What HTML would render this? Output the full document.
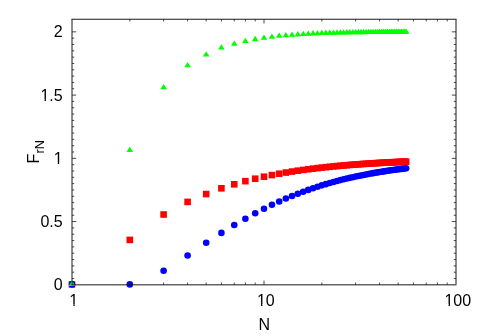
<!DOCTYPE html>
<html><head><meta charset="utf-8"><title>plot</title>
<style>
html,body{margin:0;padding:0;background:#fff;}
body{width:480px;height:336px;overflow:hidden;font-family:"Liberation Sans",sans-serif;}
svg{display:block;}
</style></head><body>
<svg width="480" height="336" viewBox="0 0 480 336">
<rect width="480" height="336" fill="#fff"/>
<g stroke="#1a1a1a" fill="none"><path d="M72.0,284.34 V19.25M456.0,19.25V284.34" stroke-width="1"/><path d="M71.5,19.25H456.5" stroke-width="1.12"/><path d="M72.0,278.52h2.2M456.0,278.52h-2.2M72.0,272.19h2.2M456.0,272.19h-2.2M72.0,265.87h2.2M456.0,265.87h-2.2M72.0,259.54h2.2M456.0,259.54h-2.2M72.0,253.22h2.2M456.0,253.22h-2.2M72.0,246.89h2.2M456.0,246.89h-2.2M72.0,240.57h2.2M456.0,240.57h-2.2M72.0,234.24h2.2M456.0,234.24h-2.2M72.0,227.92h2.2M456.0,227.92h-2.2M72.0,221.59h4.2M456.0,221.59h-4.2M72.0,215.27h2.2M456.0,215.27h-2.2M72.0,208.94h2.2M456.0,208.94h-2.2M72.0,202.62h2.2M456.0,202.62h-2.2M72.0,196.29h2.2M456.0,196.29h-2.2M72.0,189.97h2.2M456.0,189.97h-2.2M72.0,183.64h2.2M456.0,183.64h-2.2M72.0,177.32h2.2M456.0,177.32h-2.2M72.0,170.99h2.2M456.0,170.99h-2.2M72.0,164.67h2.2M456.0,164.67h-2.2M72.0,158.34h4.2M456.0,158.34h-4.2M72.0,152.02h2.2M456.0,152.02h-2.2M72.0,145.70h2.2M456.0,145.70h-2.2M72.0,139.37h2.2M456.0,139.37h-2.2M72.0,133.05h2.2M456.0,133.05h-2.2M72.0,126.72h2.2M456.0,126.72h-2.2M72.0,120.40h2.2M456.0,120.40h-2.2M72.0,114.07h2.2M456.0,114.07h-2.2M72.0,107.75h2.2M456.0,107.75h-2.2M72.0,101.42h2.2M456.0,101.42h-2.2M72.0,95.10h4.2M456.0,95.10h-4.2M72.0,88.77h2.2M456.0,88.77h-2.2M72.0,82.45h2.2M456.0,82.45h-2.2M72.0,76.12h2.2M456.0,76.12h-2.2M72.0,69.80h2.2M456.0,69.80h-2.2M72.0,63.47h2.2M456.0,63.47h-2.2M72.0,57.15h2.2M456.0,57.15h-2.2M72.0,50.82h2.2M456.0,50.82h-2.2M72.0,44.50h2.2M456.0,44.50h-2.2M72.0,38.17h2.2M456.0,38.17h-2.2M72.0,31.85h4.2M456.0,31.85h-4.2M129.80,284.84v-2.2M129.80,19.2v2.2M163.61,284.84v-2.2M163.61,19.2v2.2M187.60,284.84v-2.2M187.60,19.2v2.2M206.20,284.84v-2.2M206.20,19.2v2.2M221.41,284.84v-2.2M221.41,19.2v2.2M234.26,284.84v-2.2M234.26,19.2v2.2M245.39,284.84v-2.2M245.39,19.2v2.2M255.21,284.84v-2.2M255.21,19.2v2.2M264.00,284.84v-4.2M264.00,19.2v4.2M321.80,284.84v-2.2M321.80,19.2v2.2M355.61,284.84v-2.2M355.61,19.2v2.2M379.60,284.84v-2.2M379.60,19.2v2.2M398.20,284.84v-2.2M398.20,19.2v2.2M413.41,284.84v-2.2M413.41,19.2v2.2M426.26,284.84v-2.2M426.26,19.2v2.2M437.39,284.84v-2.2M437.39,19.2v2.2M447.21,284.84v-2.2M447.21,19.2v2.2" stroke-width="0.8"/></g>
<g fill="#ff0000"><rect x="68.70" y="281.10" width="6.60" height="6.60"/><rect x="126.50" y="236.60" width="6.60" height="6.60"/><rect x="160.31" y="211.20" width="6.60" height="6.60"/><rect x="184.30" y="198.60" width="6.60" height="6.60"/><rect x="202.90" y="190.75" width="6.60" height="6.60"/><rect x="218.11" y="185.00" width="6.60" height="6.60"/><rect x="230.96" y="181.00" width="6.60" height="6.60"/><rect x="242.09" y="177.86" width="6.60" height="6.60"/><rect x="251.91" y="175.41" width="6.60" height="6.60"/><rect x="260.70" y="173.43" width="6.60" height="6.60"/><rect x="268.65" y="171.80" width="6.60" height="6.60"/><rect x="275.90" y="170.43" width="6.60" height="6.60"/><rect x="282.58" y="169.26" width="6.60" height="6.60"/><rect x="288.76" y="168.26" width="6.60" height="6.60"/><rect x="294.51" y="167.39" width="6.60" height="6.60"/><rect x="299.89" y="166.63" width="6.60" height="6.60"/><rect x="304.95" y="165.95" width="6.60" height="6.60"/><rect x="309.71" y="165.35" width="6.60" height="6.60"/><rect x="314.22" y="164.81" width="6.60" height="6.60"/><rect x="318.50" y="164.32" width="6.60" height="6.60"/><rect x="322.57" y="163.88" width="6.60" height="6.60"/><rect x="326.45" y="163.47" width="6.60" height="6.60"/><rect x="330.15" y="163.10" width="6.60" height="6.60"/><rect x="333.70" y="162.77" width="6.60" height="6.60"/><rect x="337.10" y="162.46" width="6.60" height="6.60"/><rect x="340.37" y="162.17" width="6.60" height="6.60"/><rect x="343.52" y="161.90" width="6.60" height="6.60"/><rect x="346.55" y="161.65" width="6.60" height="6.60"/><rect x="349.48" y="161.42" width="6.60" height="6.60"/><rect x="352.31" y="161.21" width="6.60" height="6.60"/><rect x="355.04" y="161.00" width="6.60" height="6.60"/><rect x="357.69" y="160.81" width="6.60" height="6.60"/><rect x="360.25" y="160.64" width="6.60" height="6.60"/><rect x="362.74" y="160.47" width="6.60" height="6.60"/><rect x="365.16" y="160.31" width="6.60" height="6.60"/><rect x="367.51" y="160.16" width="6.60" height="6.60"/><rect x="369.79" y="160.02" width="6.60" height="6.60"/><rect x="372.02" y="159.88" width="6.60" height="6.60"/><rect x="374.18" y="159.76" width="6.60" height="6.60"/><rect x="376.30" y="159.63" width="6.60" height="6.60"/><rect x="378.35" y="159.52" width="6.60" height="6.60"/><rect x="380.36" y="159.41" width="6.60" height="6.60"/><rect x="382.33" y="159.30" width="6.60" height="6.60"/><rect x="384.24" y="159.20" width="6.60" height="6.60"/><rect x="386.12" y="159.11" width="6.60" height="6.60"/><rect x="387.95" y="159.02" width="6.60" height="6.60"/><rect x="389.74" y="158.93" width="6.60" height="6.60"/><rect x="391.50" y="158.85" width="6.60" height="6.60"/><rect x="393.22" y="158.76" width="6.60" height="6.60"/><rect x="394.90" y="158.69" width="6.60" height="6.60"/><rect x="396.55" y="158.61" width="6.60" height="6.60"/><rect x="398.17" y="158.54" width="6.60" height="6.60"/><rect x="399.76" y="158.47" width="6.60" height="6.60"/><rect x="401.32" y="158.41" width="6.60" height="6.60"/><rect x="402.85" y="158.34" width="6.60" height="6.60"/></g>
<g fill="#0000ff"><circle cx="72.00" cy="284.40" r="3.30"/><circle cx="129.80" cy="284.40" r="3.30"/><circle cx="163.61" cy="270.75" r="3.30"/><circle cx="187.60" cy="255.50" r="3.30"/><circle cx="206.20" cy="242.80" r="3.30"/><circle cx="221.41" cy="232.90" r="3.30"/><circle cx="234.26" cy="225.00" r="3.30"/><circle cx="245.39" cy="218.75" r="3.30"/><circle cx="255.21" cy="213.25" r="3.30"/><circle cx="264.00" cy="208.75" r="3.30"/><circle cx="271.95" cy="204.75" r="3.30"/><circle cx="279.20" cy="201.50" r="3.30"/><circle cx="285.88" cy="198.50" r="3.30"/><circle cx="292.06" cy="196.00" r="3.30"/><circle cx="297.81" cy="193.75" r="3.30"/><circle cx="303.19" cy="191.75" r="3.30"/><circle cx="308.25" cy="189.88" r="3.30"/><circle cx="313.01" cy="188.22" r="3.30"/><circle cx="317.52" cy="186.73" r="3.30"/><circle cx="321.80" cy="185.37" r="3.30"/><circle cx="325.87" cy="184.13" r="3.30"/><circle cx="329.75" cy="183.00" r="3.30"/><circle cx="333.45" cy="181.96" r="3.30"/><circle cx="337.00" cy="181.01" r="3.30"/><circle cx="340.40" cy="180.12" r="3.30"/><circle cx="343.67" cy="179.31" r="3.30"/><circle cx="346.82" cy="178.55" r="3.30"/><circle cx="349.85" cy="177.84" r="3.30"/><circle cx="352.78" cy="177.18" r="3.30"/><circle cx="355.61" cy="176.56" r="3.30"/><circle cx="358.34" cy="175.98" r="3.30"/><circle cx="360.99" cy="175.44" r="3.30"/><circle cx="363.55" cy="174.93" r="3.30"/><circle cx="366.04" cy="174.44" r="3.30"/><circle cx="368.46" cy="173.99" r="3.30"/><circle cx="370.81" cy="173.56" r="3.30"/><circle cx="373.09" cy="173.15" r="3.30"/><circle cx="375.32" cy="172.76" r="3.30"/><circle cx="377.48" cy="172.39" r="3.30"/><circle cx="379.60" cy="172.04" r="3.30"/><circle cx="381.65" cy="171.71" r="3.30"/><circle cx="383.66" cy="171.39" r="3.30"/><circle cx="385.63" cy="171.09" r="3.30"/><circle cx="387.54" cy="170.80" r="3.30"/><circle cx="389.42" cy="170.52" r="3.30"/><circle cx="391.25" cy="170.26" r="3.30"/><circle cx="393.04" cy="170.00" r="3.30"/><circle cx="394.80" cy="169.76" r="3.30"/><circle cx="396.52" cy="169.53" r="3.30"/><circle cx="398.20" cy="169.30" r="3.30"/><circle cx="399.85" cy="169.09" r="3.30"/><circle cx="401.47" cy="168.88" r="3.30"/><circle cx="403.06" cy="168.68" r="3.30"/><circle cx="404.62" cy="168.49" r="3.30"/><circle cx="406.15" cy="168.30" r="3.30"/></g>
<g fill="#00ff00"><path d="M72.00,280.70l-3.30,5.35h6.60z"/><path d="M129.80,146.75l-3.30,5.35h6.60z"/><path d="M163.61,84.00l-3.30,5.35h6.60z"/><path d="M187.60,62.00l-3.30,5.35h6.60z"/><path d="M206.20,51.25l-3.30,5.35h6.60z"/><path d="M221.41,44.25l-3.30,5.35h6.60z"/><path d="M234.26,40.50l-3.30,5.35h6.60z"/><path d="M245.39,37.75l-3.30,5.35h6.60z"/><path d="M255.21,35.80l-3.30,5.35h6.60z"/><path d="M264.00,34.50l-3.30,5.35h6.60z"/><path d="M271.95,33.40l-3.30,5.35h6.60z"/><path d="M279.20,32.50l-3.30,5.35h6.60z"/><path d="M285.88,31.90l-3.30,5.35h6.60z"/><path d="M292.06,31.50l-3.30,5.35h6.60z"/><path d="M297.81,31.05l-3.30,5.35h6.60z"/><path d="M303.19,30.75l-3.30,5.35h6.60z"/><path d="M308.25,30.50l-3.30,5.35h6.60z"/><path d="M313.01,30.12l-3.30,5.35h6.60z"/><path d="M317.52,29.92l-3.30,5.35h6.60z"/><path d="M321.80,29.76l-3.30,5.35h6.60z"/><path d="M325.87,29.62l-3.30,5.35h6.60z"/><path d="M329.75,29.49l-3.30,5.35h6.60z"/><path d="M333.45,29.39l-3.30,5.35h6.60z"/><path d="M337.00,29.29l-3.30,5.35h6.60z"/><path d="M340.40,29.21l-3.30,5.35h6.60z"/><path d="M343.67,29.13l-3.30,5.35h6.60z"/><path d="M346.82,29.07l-3.30,5.35h6.60z"/><path d="M349.85,29.01l-3.30,5.35h6.60z"/><path d="M352.78,28.96l-3.30,5.35h6.60z"/><path d="M355.61,28.91l-3.30,5.35h6.60z"/><path d="M358.34,28.86l-3.30,5.35h6.60z"/><path d="M360.99,28.83l-3.30,5.35h6.60z"/><path d="M363.55,28.79l-3.30,5.35h6.60z"/><path d="M366.04,28.76l-3.30,5.35h6.60z"/><path d="M368.46,28.73l-3.30,5.35h6.60z"/><path d="M370.81,28.70l-3.30,5.35h6.60z"/><path d="M373.09,28.68l-3.30,5.35h6.60z"/><path d="M375.32,28.65l-3.30,5.35h6.60z"/><path d="M377.48,28.63l-3.30,5.35h6.60z"/><path d="M379.60,28.61l-3.30,5.35h6.60z"/><path d="M381.65,28.59l-3.30,5.35h6.60z"/><path d="M383.66,28.57l-3.30,5.35h6.60z"/><path d="M385.63,28.56l-3.30,5.35h6.60z"/><path d="M387.54,28.54l-3.30,5.35h6.60z"/><path d="M389.42,28.53l-3.30,5.35h6.60z"/><path d="M391.25,28.52l-3.30,5.35h6.60z"/><path d="M393.04,28.50l-3.30,5.35h6.60z"/><path d="M394.80,28.49l-3.30,5.35h6.60z"/><path d="M396.52,28.48l-3.30,5.35h6.60z"/><path d="M398.20,28.47l-3.30,5.35h6.60z"/><path d="M399.85,28.46l-3.30,5.35h6.60z"/><path d="M401.47,28.45l-3.30,5.35h6.60z"/><path d="M403.06,28.45l-3.30,5.35h6.60z"/><path d="M404.62,28.44l-3.30,5.35h6.60z"/><path d="M406.15,28.43l-3.30,5.35h6.60z"/></g>
<g stroke="#1a1a1a" stroke-width="1" fill="none" stroke-linecap="butt">
<path d="M71.5,284.84 H456.5"/><path d="M72.21,280.8V284.84" stroke-width="0.87"/>
</g>
<g font-family="Liberation Sans, sans-serif" font-size="16" fill="#000" style="filter:grayscale(1)">
<text x="62.7" y="290.34" text-anchor="end">0</text>
<text x="62.7" y="227.09" text-anchor="end">0.5</text>
<text x="62.7" y="163.84" text-anchor="end">1</text>
<text x="62.7" y="100.60" text-anchor="end">1.5</text>
<text x="62.7" y="37.35" text-anchor="end">2</text>
<text x="73.80" y="305.8" text-anchor="middle">1</text>
<text x="265.80" y="305.8" text-anchor="middle">10</text>
<text x="457.80" y="305.8" text-anchor="middle">100</text>
<text x="264.2" y="330" text-anchor="middle">N</text>
<text transform="translate(39.2,163.4) rotate(-90)">F<tspan font-size="12.8" dy="4.6">rN</tspan></text>
<path fill="#fff" d="M53.5,162H57.78V164H53.5zM59.19,162H62.5V164H59.19z"/>
<path fill="#fff" d="M40.5,99H44.54V101H40.5zM45.92,99H49.5V101H45.92z"/>
<path fill="#fff" d="M69.5,304H73.3V306H69.5zM74.67,304H78.5V306H74.67z"/>
<path fill="#fff" d="M257.5,304H261.04V306H257.5zM262.43,304H266.5V306H262.43z"/>
<path fill="#fff" d="M444.5,304H448.54V306H444.5zM449.92,304H453.5V306H449.92z"/>
</g>
</svg>
</body></html>
